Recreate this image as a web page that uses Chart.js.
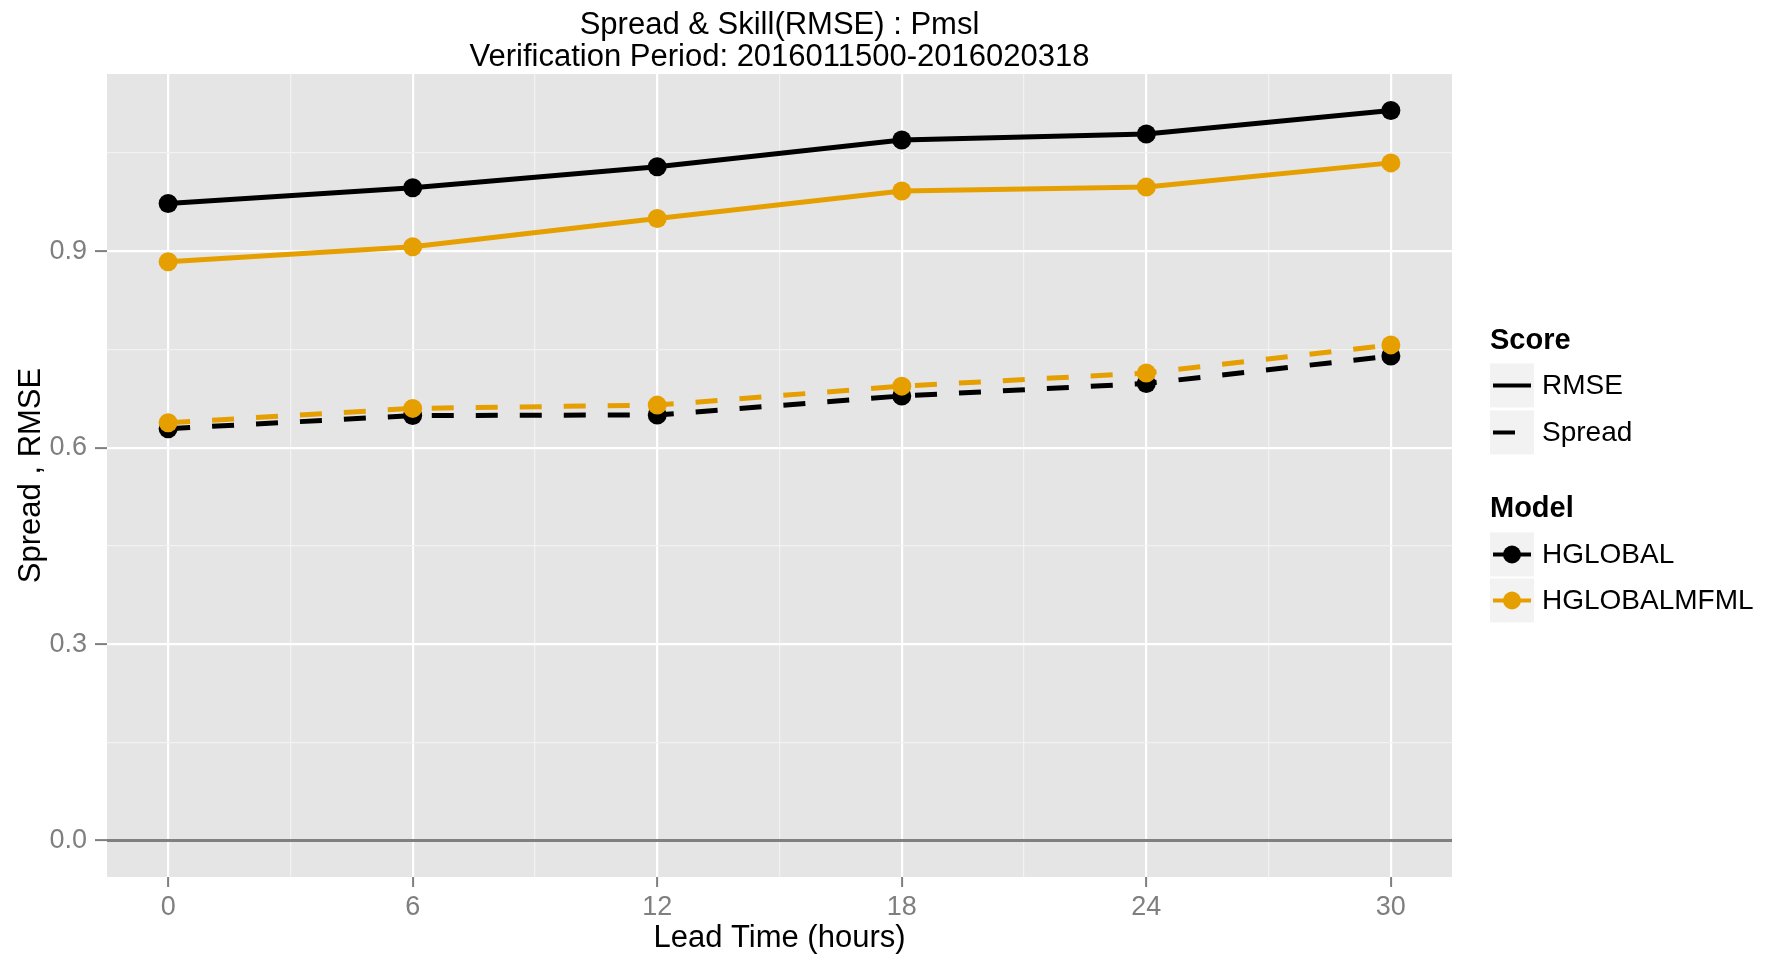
<!DOCTYPE html>
<html>
<head>
<meta charset="utf-8">
<title>Spread & Skill(RMSE) : Pmsl</title>
<script src="https://cdn.jsdelivr.net/npm/chart.js@4/dist/chart.umd.min.js"></script>
<style>
  html, body { margin: 0; padding: 0; background: #fff; }
  #wrap { width: 1769px; height: 954px; }
</style>
</head>
<body>
<div id="wrap"><canvas id="skillChart" width="1769" height="954"></canvas></div>
<script>
// lead times (hours) and scores per model
const leadTimes = [0, 6, 12, 18, 24, 30];
const rmseHglobal = [0.973, 0.997, 1.029, 1.070, 1.079, 1.115];
const rmseMfml = [0.884, 0.907, 0.950, 0.992, 0.998, 1.035];
const spreadHglobal = [0.629, 0.649, 0.650, 0.679, 0.698, 0.740];
const spreadMfml = [0.638, 0.660, 0.665, 0.694, 0.714, 0.757];

const xTicks = [0, 6, 12, 18, 24, 30];
const yTicks = [0.0, 0.3, 0.6, 0.9];
const scoreNames = ['RMSE', 'Spread'];
const modelNames = ['HGLOBAL', 'HGLOBALMFML'];
const modelColors = ['#000000', '#E69F00'];

const FONT = "'Liberation Sans', Arial, Helvetica, sans-serif";
Chart.defaults.font.family = FONT;

const LINE_W = 5;
const DASH = [22, 22];
const PT_R = 9.5;

function series(label, values, color, dashed, order) {
  return {
    label: label,
    data: leadTimes.map((x, i) => ({ x: x, y: values[i] })),
    borderColor: color,
    backgroundColor: color,
    borderWidth: LINE_W,
    borderDash: dashed ? DASH : [],
    pointRadius: PT_R,
    pointHoverRadius: PT_R,
    pointBorderWidth: 0,
    pointBackgroundColor: color,
    tension: 0,
    order: order
  };
}

// majors plus the minor lines halfway between them
function withMinor(majors) {
  const step = majors[1] - majors[0];
  const out = [];
  majors.forEach(v => { out.push(v); out.push(v + step / 2); });
  return out;
}
const isMajor = (list, v) => list.some(t => Math.abs(t - v) < 1e-6);

const panelBg = {
  id: 'panelBg',
  beforeDraw(chart) {
    const { ctx, chartArea: a } = chart;
    ctx.save();
    ctx.fillStyle = '#ffffff';
    ctx.fillRect(0, 0, chart.width, chart.height);
    ctx.fillStyle = '#E5E5E5';
    ctx.fillRect(a.left, a.top, a.right - a.left, a.bottom - a.top);
    ctx.restore();
  }
};

// horizontal reference line at 0
const zeroLine = {
  id: 'zeroLine',
  beforeDatasetsDraw(chart) {
    const { ctx, chartArea: a } = chart;
    const y = chart.scales.y.getPixelForValue(0);
    ctx.save();
    ctx.strokeStyle = '#808080';
    ctx.lineWidth = 3;
    ctx.beginPath();
    ctx.moveTo(a.left, y);
    ctx.lineTo(a.right, y);
    ctx.stroke();
    ctx.restore();
  }
};

// two-part legend: line type for score, colour for model
const ggLegend = {
  id: 'ggLegend',
  afterDraw(chart) {
    const { ctx, chartArea: a } = chart;
    const left = a.right + 38;
    const top = (a.top + a.bottom) / 2 - 150;
    const key = 44;
    ctx.save();
    ctx.textBaseline = 'middle';
    ctx.textAlign = 'left';

    const drawKey = (y) => {
      ctx.fillStyle = '#F2F2F2';
      ctx.fillRect(left, y, key, key);
    };

    ctx.fillStyle = '#000';
    ctx.font = 'bold 29px ' + FONT;
    ctx.fillText('Score', left, top + 16);
    scoreNames.forEach((name, i) => {
      const y = top + 38 + i * 47;
      drawKey(y);
      ctx.strokeStyle = '#000';
      ctx.lineWidth = 4;
      ctx.lineCap = 'butt';
      ctx.beginPath();
      ctx.moveTo(left + 3, y + key / 2);
      ctx.lineTo(left + (i === 0 ? key - 3 : 25), y + key / 2);
      ctx.stroke();
      ctx.fillStyle = '#000';
      ctx.font = '28px ' + FONT;
      ctx.fillText(name, left + 52, y + key / 2 + 1);
    });

    ctx.fillStyle = '#000';
    ctx.font = 'bold 29px ' + FONT;
    ctx.fillText('Model', left, top + 184);
    modelNames.forEach((name, i) => {
      const y = top + 207 + i * 46;
      drawKey(y);
      ctx.strokeStyle = modelColors[i];
      ctx.fillStyle = modelColors[i];
      ctx.lineWidth = 4;
      ctx.beginPath();
      ctx.moveTo(left + 3, y + key / 2);
      ctx.lineTo(left + key - 3, y + key / 2);
      ctx.stroke();
      ctx.beginPath();
      ctx.arc(left + key / 2, y + key / 2, 9, 0, Math.PI * 2);
      ctx.fill();
      ctx.fillStyle = '#000';
      ctx.font = '28px ' + FONT;
      ctx.fillText(name, left + 52, y + key / 2 + 1);
    });
    ctx.restore();
  }
};

new Chart(document.getElementById('skillChart').getContext('2d'), {
  type: 'line',
  data: {
    datasets: [
      series('HGLOBALMFML RMSE', rmseMfml, modelColors[1], false, 1),
      series('HGLOBAL RMSE', rmseHglobal, modelColors[0], false, 2),
      series('HGLOBALMFML Spread', spreadMfml, modelColors[1], true, 3),
      series('HGLOBAL Spread', spreadHglobal, modelColors[0], true, 4)
    ]
  },
  options: {
    responsive: false,
    animation: false,
    layout: { padding: { top: 0, right: 317, bottom: 0, left: 0 } },
    plugins: {
      legend: { display: false },
      tooltip: { enabled: false },
      title: {
        display: true,
        fullSize: false,
        text: ['Spread & Skill(RMSE) : Pmsl', 'Verification Period: 2016011500-2016020318'],
        color: '#000',
        font: { size: 31, weight: 'normal', lineHeight: 1.04 },
        padding: { top: 9, bottom: 0.5 }
      }
    },
    scales: {
      x: {
        type: 'linear',
        min: -1.5,
        max: 31.5,
        afterBuildTicks(scale) {
          scale.ticks = withMinor(xTicks).filter(v => v <= 30).map(v => ({ value: v }));
        },
        afterFit(scale) { scale.height = 77; },
        border: { display: false },
        grid: {
          color: c => (c.tick && isMajor(xTicks, c.tick.value)) ? '#FFFFFF' : '#F2F2F2',
          lineWidth: c => (c.tick && isMajor(xTicks, c.tick.value)) ? 2.2 : 1.2,
          tickColor: c => (c.tick && isMajor(xTicks, c.tick.value)) ? '#7F7F7F' : 'rgba(0,0,0,0)',
          tickLength: 10,
          tickWidth: 2
        },
        ticks: {
          color: '#7F7F7F',
          font: { size: 27 },
          padding: 4,
          maxRotation: 0,
          autoSkip: false,
          callback: v => isMajor(xTicks, v) ? String(v) : ''
        },
        title: {
          display: true,
          text: 'Lead Time (hours)',
          color: '#000',
          font: { size: 31, lineHeight: 1.0 },
          padding: { top: 0, bottom: 0 }
        }
      },
      y: {
        type: 'linear',
        min: -0.0558,
        max: 1.1708,
        afterBuildTicks(scale) {
          scale.ticks = withMinor(yTicks).filter(v => v <= 1.1).map(v => ({ value: v }));
        },
        afterFit(scale) { scale.width = 107; },
        border: { display: false },
        grid: {
          color: c => (c.tick && isMajor(yTicks, c.tick.value)) ? '#FFFFFF' : '#F2F2F2',
          lineWidth: c => (c.tick && isMajor(yTicks, c.tick.value)) ? 2.2 : 1.2,
          tickColor: c => (c.tick && isMajor(yTicks, c.tick.value)) ? '#7F7F7F' : 'rgba(0,0,0,0)',
          tickLength: 12,
          tickWidth: 2
        },
        ticks: {
          color: '#7F7F7F',
          font: { size: 27 },
          padding: 8,
          autoSkip: false,
          callback: v => isMajor(yTicks, v) ? v.toFixed(1) : ''
        },
        title: {
          display: true,
          text: 'Spread , RMSE',
          color: '#000',
          font: { size: 31 },
          padding: { top: 13, bottom: 0 }
        }
      }
    }
  },
  plugins: [panelBg, zeroLine, ggLegend]
});
</script>
</body>
</html>
